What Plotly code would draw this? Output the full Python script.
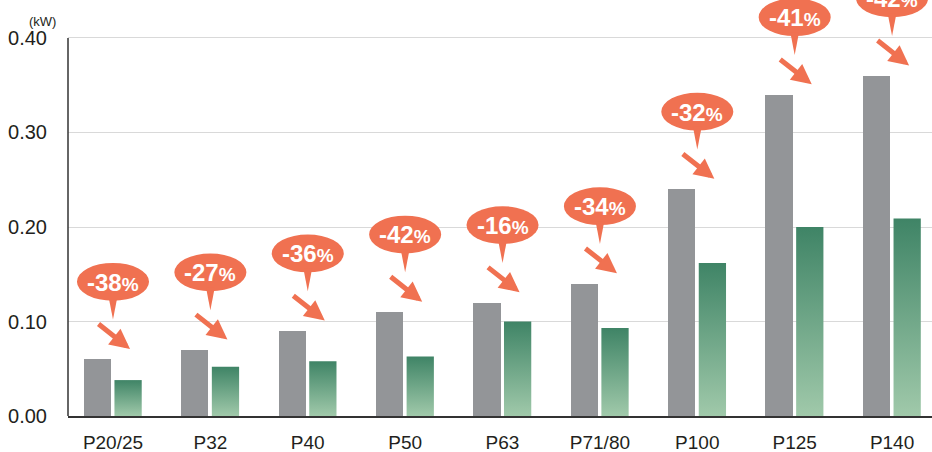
import plotly.graph_objects as go

categories = ["P20/25", "P32", "P40", "P50", "P63", "P71/80", "P100", "P125", "P140"]
conventional = [0.06, 0.07, 0.09, 0.11, 0.12, 0.14, 0.24, 0.34, 0.36]
new_model = [0.038, 0.052, 0.058, 0.063, 0.10, 0.093, 0.162, 0.20, 0.209]
reduction = ["-38", "-27", "-36", "-42", "-16", "-34", "-32", "-41", "-42"]
y_ticks = [0.0, 0.1, 0.2, 0.3, 0.4]

GRAY = "#939598"
ORANGE = "#F07151"
GREEN_TOP = "#3F8466"
GREEN_BOT = "#A0C9AA"
TEXT = "#231F20"

idx = list(range(len(categories)))
fig = go.Figure()

fig.add_trace(go.Bar(x=idx, y=conventional, offset=-0.30, width=0.28,
                     marker=dict(color=GRAY, line=dict(width=0)), showlegend=False))

for i, v in zip(idx, new_model):
    x0, x1 = i + 0.015, i + 0.295
    fig.add_trace(go.Scatter(
        x=[x0, x1, x1, x0, x0], y=[0, 0, v, v, 0], mode="lines",
        fill="toself", line=dict(width=0),
        fillgradient=dict(type="vertical", colorscale=[[0, GREEN_BOT], [1, GREEN_TOP]]),
        showlegend=False, hoverinfo="skip"))

shapes = []
annotations = []
for i, g, r in zip(idx, conventional, reduction):
    # bubble
    shapes.append(dict(type="circle", xref="x", yref="y", x0=i - 0.37, x1=i + 0.37,
                       y0=g + 0.062, y1=g + 0.102, fillcolor=ORANGE, line=dict(width=0), layer="above"))
    shapes.append(dict(type="path", xref="x", yref="y",
                       path=f"M {i-0.045},{g+0.066} L {i+0.045},{g+0.066} L {i},{g+0.042} Z",
                       fillcolor=ORANGE, line=dict(width=0), layer="above"))
    annotations.append(dict(x=i, y=g + 0.07, yshift=11, xref="x", yref="y", showarrow=False,
                            text=f"<b>{r}</b><b><span style='font-size:19px'>%</span></b>",
                            font=dict(family="Liberation Sans, Arial", size=24, color="white")))
    # arrow
    annotations.append(dict(x=i + 0.175, y=g + 0.011, xref="x", yref="y", text="",
                            showarrow=True, ax=-33, ay=-26, arrowhead=2, arrowwidth=5,
                            arrowsize=0.8, arrowcolor=ORANGE))

# y axis line up to 0.40
shapes.append(dict(type="line", xref="paper", yref="y", x0=0, x1=0, y0=0, y1=0.4,
                   line=dict(color="#333333", width=1.5)))

annotations.append(dict(x=-0.0475, y=0.972, xref="paper", yref="paper", text="(kW)",
                        showarrow=False, font=dict(size=13, color=TEXT)))

fig.update_layout(
    width=932, height=452,
    margin=dict(l=68, r=0, t=0, b=36),
    paper_bgcolor="white", plot_bgcolor="white",
    font=dict(family="Liberation Sans, Arial", color=TEXT),
    shapes=shapes, annotations=annotations,
    xaxis=dict(range=[-0.462, 8.41], tickvals=idx, ticktext=categories,
               showgrid=False, zeroline=False, showline=True, linecolor="#333333", linewidth=1.5,
               ticks="outside", ticklen=8, tickcolor="rgba(0,0,0,0)",
               tickfont=dict(size=19, color=TEXT), automargin=False),
    yaxis=dict(range=[0, 0.4402], tickvals=y_ticks, ticktext=[f"{t:.2f}" for t in y_ticks],
               showgrid=True, gridcolor="#D9D9D9", gridwidth=1.2, zeroline=False, showline=False,
               ticks="outside", ticklen=16, tickcolor="rgba(0,0,0,0)",
               tickfont=dict(size=20, color=TEXT), automargin=False),
    bargap=0,
)

fig.write_html("out.html", config={"displayModeBar": False},
               post_script="document.body.style.margin='0';document.body.style.overflow='hidden';")
